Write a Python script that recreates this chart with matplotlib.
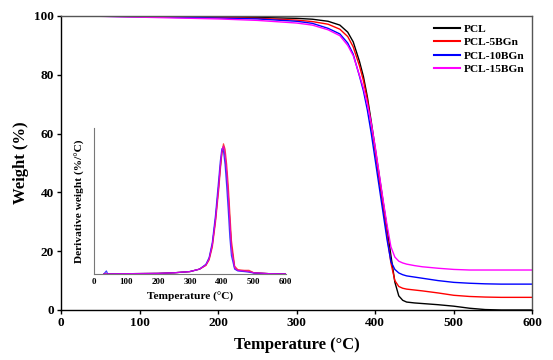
import numpy as np
import matplotlib
matplotlib.use('Agg')
import matplotlib.pyplot as plt

plt.rcParams['font.family'] = 'Liberation Serif'
plt.rcParams['font.weight'] = 'bold'

# TGA curves: temperature (°C) vs weight (%)
temp = [30, 100, 200, 250, 300, 320, 340, 355, 365, 372, 380, 385, 390, 395, 400, 405,
        410, 415, 420, 425, 430, 435, 440, 450, 460, 480, 500, 520, 540, 560, 580, 600]
w_pcl = [100, 99.9, 99.7, 99.5, 99.2, 98.9, 98.2, 96.9, 94.5, 91.2, 84.5, 79.4, 72.5, 64, 55, 46,
         37, 28, 18.5, 9.5, 4.8, 3.3, 2.7, 2.4, 2.2, 1.8, 1.3, 0.6, 0.15, 0, 0, 0]
w_5bgn = [100, 99.8, 99.5, 99.2, 98.6, 98.1, 97.2, 95.5, 93.0, 89.5, 83, 78, 71.5, 63, 54, 44.5,
          35, 25.5, 16, 10.0, 8.0, 7.4, 7.1, 6.8, 6.5, 5.8, 5.0, 4.6, 4.4, 4.3, 4.3, 4.3]
w_10bgn = [100, 99.7, 99.3, 99.0, 98.2, 97.5, 95.8, 93.9, 90.8, 87.0, 79.5, 74.5, 68, 60, 51, 42,
           33, 24, 16.5, 13.8, 12.6, 12.0, 11.6, 11.2, 10.8, 10.0, 9.4, 9.1, 8.9, 8.8, 8.8, 8.8]
w_15bgn = [100, 99.6, 99.0, 98.5, 97.6, 96.9, 95.3, 93.3, 90.0, 86.5, 79.8, 75.5, 70, 63.5, 55.5, 46.5,
           37.5, 29, 21.5, 18.0, 16.6, 16.0, 15.6, 15.1, 14.7, 14.2, 13.8, 13.6, 13.6, 13.6, 13.6, 13.6]

# DTG curves (inset): temperature (°C) vs derivative weight (%/°C)
dtg_temp = [30, 38, 42, 100, 200, 250, 300, 330, 350, 360, 370, 380, 390, 395, 400,
            405, 410, 415, 420, 425, 430, 440, 450, 470, 485, 500, 550, 600]
d_pcl = [0, 0, 0, 0.005, 0.01, 0.02, 0.04, 0.08, 0.15, 0.25, 0.48, 0.9, 1.45, 1.75, 2.0,
         2.1, 1.95, 1.65, 1.3, 0.85, 0.45, 0.1, 0.06, 0.05, 0.04, 0.02, 0.005, 0]
d_5bgn = [0, 0, 0, 0.005, 0.01, 0.02, 0.04, 0.08, 0.14, 0.23, 0.44, 0.85, 1.38, 1.7, 1.98,
          2.14, 2.05, 1.8, 1.45, 1.0, 0.55, 0.13, 0.07, 0.06, 0.06, 0.02, 0.005, 0]
d_10bgn = [0, 0.05, 0, 0.005, 0.01, 0.02, 0.04, 0.08, 0.16, 0.27, 0.52, 0.97, 1.55, 1.85, 2.06,
           2.02, 1.8, 1.45, 1.05, 0.6, 0.3, 0.08, 0.05, 0.04, 0.03, 0.015, 0.005, 0]
d_15bgn = [0, 0, 0, 0.005, 0.01, 0.02, 0.04, 0.08, 0.15, 0.25, 0.48, 0.9, 1.45, 1.78, 2.02,
           2.1, 1.97, 1.68, 1.3, 0.85, 0.42, 0.1, 0.06, 0.05, 0.04, 0.02, 0.005, 0]

labels = ['PCL', 'PCL-5BGn', 'PCL-10BGn', 'PCL-15BGn']
colors = ['black', 'red', 'blue', 'magenta']

fig = plt.figure(figsize=(5.53, 3.6), dpi=100)

ax = fig.add_axes([0.1103, 0.1389, 0.8523, 0.8167])
for w, lab, c in zip([w_pcl, w_5bgn, w_10bgn, w_15bgn], labels, colors):
    ax.plot(temp, w, color=c, lw=1.0, label=lab)

ax.set_xlim(0, 600)
ax.set_ylim(0, 100)
ax.set_xticks([0, 100, 200, 300, 400, 500, 600])
ax.set_yticks([0, 20, 40, 60, 80, 100])
ax.tick_params(direction='out', length=3, width=1, labelsize=9.5, pad=2)
ax.set_xlabel('Temperature (°C)', fontsize=12, fontweight='bold', labelpad=6)
ax.set_ylabel('Weight (%)', fontsize=12, fontweight='bold', labelpad=4)
for s in ['left', 'bottom']:
    ax.spines[s].set_linewidth(1.0)
for s in ['top', 'right']:
    ax.spines[s].set_color('#555555')
    ax.spines[s].set_linewidth(1.0)

leg = ax.legend(loc='upper right', frameon=False, fontsize=8.2, handlelength=2.3,
                handletextpad=0.3, labelspacing=0.3, borderaxespad=0.3,
                bbox_to_anchor=(1.0, 1.0))
for line in leg.get_lines():
    line.set_linewidth(1.5)

# inset DTG
ins = fig.add_axes([0.1705, 0.2389, 0.3461, 0.4056])
ins.patch.set_alpha(0)
for d, c in zip([d_pcl, d_5bgn, d_10bgn, d_15bgn], colors):
    ins.plot(dtg_temp, d, color=c, lw=0.9, alpha=0.75)
ins.set_xlim(0, 600)
ins.set_ylim(0, 2.4)
ins.set_xticks([0, 100, 200, 300, 400, 500, 600])
ins.set_yticks([])
ins.tick_params(axis='x', length=0, labelsize=6.5, pad=3)
ins.spines['top'].set_visible(False)
ins.spines['right'].set_visible(False)
ins.spines['left'].set_color('#777777')
ins.spines['bottom'].set_color('#777777')
ins.set_xlabel('Temperature (°C)', fontsize=8.2, fontweight='bold', labelpad=4)
ins.set_ylabel('Derivative weight (%/°C)', fontsize=8.2, fontweight='bold', labelpad=7)

fig.savefig('out.png', dpi=100)
